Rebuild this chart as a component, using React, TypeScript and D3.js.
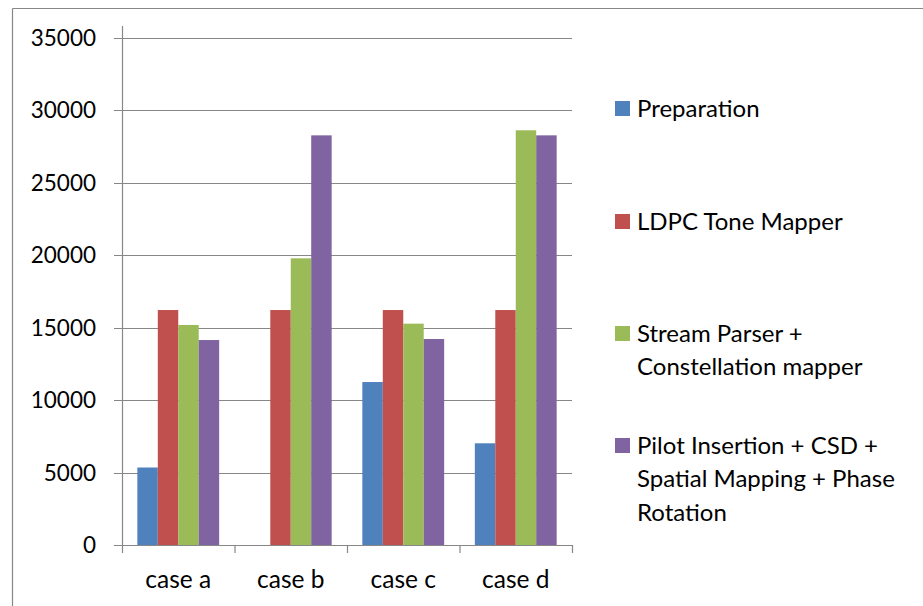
import React from "react";
import * as d3 from "d3";

const categories = ["case a", "case b", "case c", "case d"];
const seriesNames = [
  "Preparation",
  "LDPC Tone Mapper",
  "Stream Parser + Constellation mapper",
  "Pilot Insertion + CSD + Spatial Mapping + Phase Rotation",
];
const legendLines = [
  ["Preparation"],
  ["LDPC Tone Mapper"],
  ["Stream Parser +", "Constellation mapper"],
  ["Pilot Insertion + CSD +", "Spatial Mapping + Phase", "Rotation"],
];
const preparation = [5350, 0, 11250, 7020];
const ldpc = [16220, 16220, 16220, 16220];
const streamParser = [15190, 19790, 15280, 28630];
const pilotInsertion = [14150, 28280, 14220, 28280];
const yTicks = [0, 5000, 10000, 15000, 20000, 25000, 30000, 35000];
const colors = ["#4F81BD", "#C0504D", "#9BBB59", "#8064A2"];

const seriesValues = [preparation, ldpc, streamParser, pilotInsertion];

export default function App() {
  const W = 923;
  const H = 606;
  const left = 122;
  const right = 572;
  const top = 38;
  const bottom = 545;
  const font = "Lato, 'Open Sans', sans-serif";
  const grid = "#878787";

  const x = d3.scaleBand<string>().domain(categories).range([left, right]).paddingInner(0).paddingOuter(0);
  const bw = x.bandwidth() / 5.5;
  const xs = d3.scaleBand<number>().domain([0, 1, 2, 3]).range([0.75 * bw, 4.75 * bw]).padding(0);
  const y = d3.scaleLinear().domain([0, 35000]).range([bottom, top]);

  const boundaries = categories.map((c) => x(c) as number).concat([right]);

  return (
    <svg
      width={W}
      height={H}
      style={{ position: "absolute", left: 0, top: 0, background: "#fff" }}
    >
      <rect x={0} y={0} width={W} height={H} fill="#fff" />
      {/* outer border */}
      <line x1={12.5} y1={8.5} x2={W} y2={8.5} stroke={grid} strokeWidth={1.2} />
      <line x1={12.5} y1={8.5} x2={12.5} y2={H} stroke={grid} strokeWidth={1.2} />

      {/* gridlines and y ticks */}
      {yTicks.map((t) => (
        <g key={t}>
          <line x1={114} x2={right} y1={Math.round(y(t)) + 0.5} y2={Math.round(y(t)) + 0.5} stroke={grid} strokeWidth={1.2} />
          <text
            x={96}
            y={y(t) + 8}
            textAnchor="end"
            fontFamily={font}
            fontSize={22.5}
            fill="#000"
          >
            {t}
          </text>
        </g>
      ))}

      {/* bars */}
      {categories.map((c, ci) => (
        <g key={c}>
          {seriesValues.map((vals, si) =>
            vals[ci] > 0 ? (
              <rect
                key={si}
                x={(x(c) as number) + (xs(si) as number)}
                y={y(vals[ci])}
                width={xs.bandwidth()}
                height={bottom - y(vals[ci])}
                fill={colors[si]}
              />
            ) : null
          )}
        </g>
      ))}

      {/* axes */}
      <line x1={left + 0.5} x2={left + 0.5} y1={top - 12} y2={bottom} stroke={grid} strokeWidth={1.2} />
      <line x1={left} x2={right} y1={bottom + 0.5} y2={bottom + 0.5} stroke={grid} strokeWidth={1.2} />
      {boundaries.map((b, i) => (
        <line key={i} x1={b + 0.5} x2={b + 0.5} y1={bottom} y2={bottom + 8} stroke={grid} strokeWidth={1.2} />
      ))}

      {/* x labels */}
      {categories.map((c) => (
        <text
          key={c}
          x={(x(c) as number) + x.bandwidth() / 2}
          y={588}
          textAnchor="middle"
          fontFamily={font}
          fontSize={24.5}
          fill="#000"
        >
          {c}
        </text>
      ))}

      {/* legend */}
      {seriesNames.map((name, i) => {
        const base = [117, 230, 342, 454][i];
        return (
          <g key={name}>
            <rect x={615} y={base - 16} width={15} height={15} fill={colors[i]} />
            {legendLines[i].map((ln, li) => (
              <text
                key={li}
                x={637}
                y={base + li * 33.3}
                fontFamily={font}
                fontSize={24}
                fill="#000"
              >
                {ln}
              </text>
            ))}
          </g>
        );
      })}
    </svg>
  );
}
